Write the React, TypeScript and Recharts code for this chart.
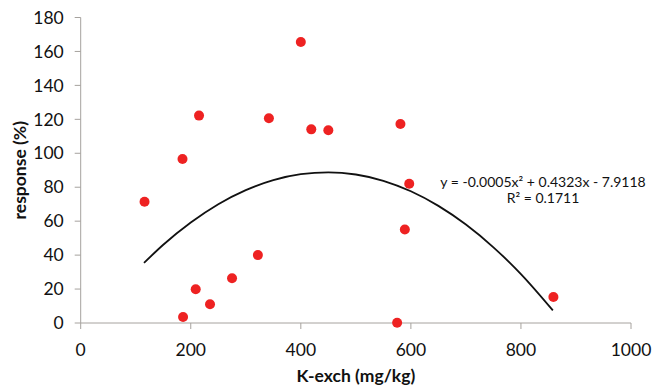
import React from 'react'
import { ComposedChart, Scatter, Line, XAxis, YAxis } from 'recharts'

// ─── Data ───────────────────────────────────────────────────────────────────
const kExch = [116, 186, 209, 235, 275, 322, 185, 215, 342, 400, 419, 450, 581, 597, 589, 575, 859]
const response = [71.4, 3.5, 19.9, 11, 26.4, 40, 96.6, 122.2, 120.6, 165.6, 114.1, 113.6, 117.3, 82, 55.1, 0.2, 15.3]

// fitted trend curve, read at regular steps along the line
const trendX = [115, 150, 200, 250, 300, 350, 400, 450, 500, 550, 600, 650, 700, 750, 800, 858]
const trendY = [35.4, 46.1, 59.2, 70.0, 78.3, 84.2, 87.7, 88.8, 87.5, 83.8, 77.6, 69.0, 58.0, 44.6, 28.8, 7.4]

const xTicks = [0, 200, 400, 600, 800, 1000]
const yTicks = [0, 20, 40, 60, 80, 100, 120, 140, 160, 180]

const points = kExch.map((x, i) => ({ x, y: response[i] }))
const trend = trendX.map((x, i) => ({ x, y: trendY[i] }))

const FONT = 'Lato, "Open Sans", sans-serif'
const AXIS = '#a6a29e'

export default function App() {
  return (
    <div style={{ position: 'absolute', left: 0, top: 0, width: 653, height: 389, background: '#fff', fontFamily: FONT }}>
      <ComposedChart width={653} height={389} margin={{ top: 17.5, right: 22, left: 0, bottom: 0 }}>
        <XAxis
          dataKey="x"
          type="number"
          domain={[0, 1000]}
          ticks={xTicks}
          height={66}
          stroke={AXIS}
          tickSize={6}
          tickMargin={15}
          tick={{ fontSize: 17.5, fill: '#111', fontFamily: FONT }}
          label={({ viewBox }: any) => (
            <text x={viewBox.x + viewBox.width / 2} y={382} textAnchor="middle" fontSize={17.5} fontWeight={700} fill="#111" fontFamily={FONT}>
              K-exch (mg/kg)
            </text>
          )}
        />
        <YAxis
          dataKey="y"
          type="number"
          domain={[0, 180]}
          ticks={yTicks}
          width={80.7}
          stroke={AXIS}
          tickSize={6}
          tickMargin={11}
          tick={{ fontSize: 17.5, fill: '#111', fontFamily: FONT }}
          label={({ viewBox }: any) => {
            const cy = viewBox.y + viewBox.height / 2
            return (
              <text x={26} y={cy} transform={`rotate(-90 26 ${cy})`} textAnchor="middle" fontSize={17.5} fontWeight={700} fill="#111" fontFamily={FONT}>
                response (%)
              </text>
            )
          }}
        />
        <Line data={trend} dataKey="y" type="monotone" stroke="#111" strokeWidth={1.8} dot={false} activeDot={false} isAnimationActive={false} />
        <Scatter data={points} dataKey="y" fill="#ee2222" shape={(p: any) => <circle cx={p.cx} cy={p.cy} r={5} fill="#ee2222" />} isAnimationActive={false} />
      </ComposedChart>
      <div style={{ position: 'absolute', left: 543, top: 174, transform: 'translateX(-50%)', textAlign: 'center', fontSize: 14, lineHeight: '16px', color: '#111', whiteSpace: 'nowrap' }}>
        <div>y = -0.0005x² + 0.4323x - 7.9118</div>
        <div>R² = 0.1711</div>
      </div>
    </div>
  )
}
